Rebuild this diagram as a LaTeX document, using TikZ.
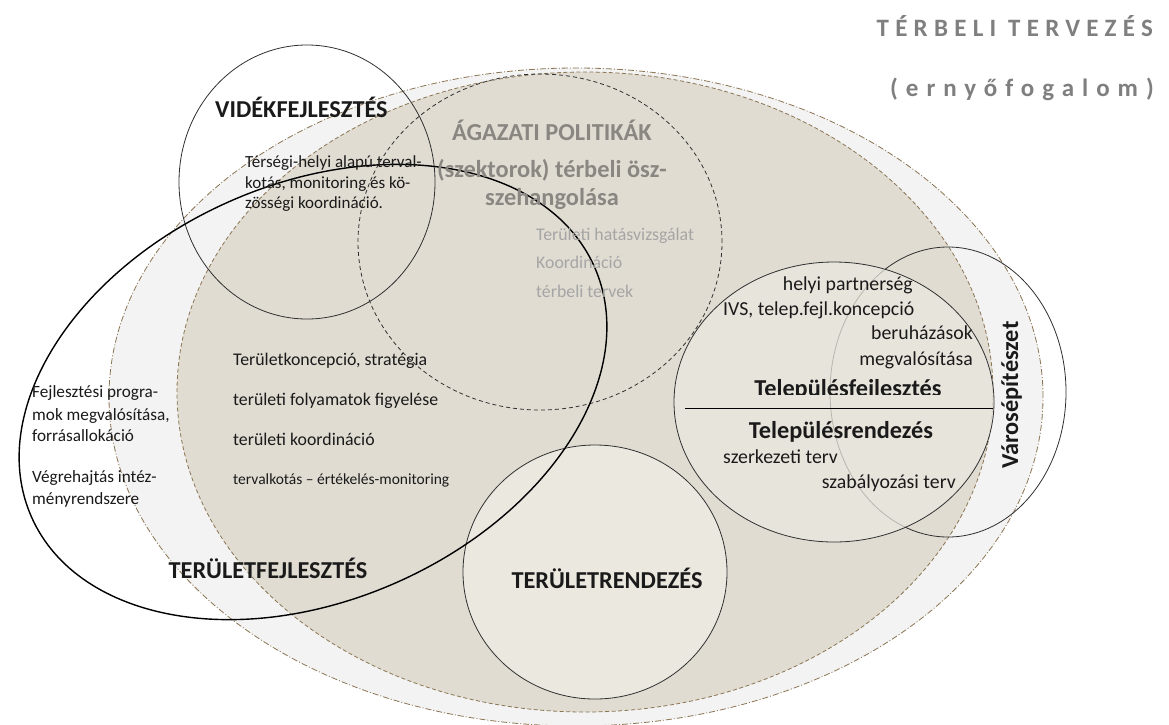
\documentclass[tikz,border=0pt]{standalone}
\usepackage{fontspec}
\setmainfont{Carlito}
\definecolor{outerfill}{HTML}{F3F3F3}
\definecolor{innerfill}{HTML}{E0DCD2}
\definecolor{lightfill}{HTML}{EBE8E0}
\definecolor{brownline}{HTML}{8B7553}
\definecolor{titlegray}{HTML}{7F7F7F}
\definecolor{sectgray}{HTML}{8A8782}
\definecolor{subgray}{HTML}{A5A5A5}
\definecolor{txt}{HTML}{1A1A1A}
\definecolor{ringcol}{HTML}{303030}
\begin{document}
\begin{tikzpicture}[x=1pt,y=1pt,
  outerset/.style={fill=outerfill, draw=brownline, line width=0.8pt, dash pattern=on 6pt off 2pt on 1pt off 2pt},
  innerset/.style={fill=innerfill, draw=brownline, line width=0.8pt, dash pattern=on 4pt off 2.5pt},
  ring/.style={draw=ringcol, line width=0.8pt},
  dashring/.style={draw=ringcol, line width=0.8pt, dash pattern=on 4pt off 3pt},
  bigring/.style={draw=black, line width=1.4pt},
  lab/.style={inner sep=0pt, text=txt},
  bigbold/.style={lab, font=\fontsize{24.3}{28}\selectfont\bfseries},
  midbold/.style={lab, font=\fontsize{24.3}{28}\selectfont\bfseries},
  small/.style={lab, font=\fontsize{17}{20}\selectfont},
  fpstyle/.style={lab, font=\fontsize{17.2}{20}\selectfont},
  tf/.style={lab, font=\fontsize{17.8}{21}\selectfont},
  tel/.style={lab, font=\fontsize{19.8}{23}\selectfont},
  ag/.style={inner sep=0pt, text=sectgray, font=\fontsize{24.4}{28}\selectfont\bfseries},
  agsub/.style={inner sep=0pt, text=subgray, font=\fontsize{17.8}{21}\selectfont},
  ttlA/.style={inner sep=0pt, text=titlegray, font=\fontsize{25}{29}\selectfont\bfseries\addfontfeatures{LetterSpace=25}},
  ttlB/.style={inner sep=0pt, text=titlegray, font=\fontsize{25}{29}\selectfont\bfseries\addfontfeatures{LetterSpace=32}}
]
\useasboundingbox (0,0) rectangle (1169,-724);
\fill[white] (0,0) rectangle (1169,-724);

% umbrella sets
\draw[outerset] (576,-397) ellipse [x radius=467pt, y radius=329pt];
\draw[innerset] (585,-392) ellipse [x radius=408pt, y radius=320pt];

% rings
\draw[ring] (307,-182) ellipse [x radius=128pt, y radius=137pt];
\draw[dashring] (540,-242) ellipse [x radius=182pt, y radius=168pt];
\draw[ring] (948,-392) ellipse [x radius=118pt, y radius=145pt];
\draw[ring, fill=lightfill, fill opacity=0.72] (834,-402) ellipse [x radius=160pt, y radius=140pt];
\draw[ring, fill=lightfill] (595,-572) ellipse [x radius=132pt, y radius=127pt];
\draw[bigring, rotate around={24:(313,-392)}] (313,-392) ellipse [x radius=308pt, y radius=208pt];

% divider in the settlement circle
\coordinate (divL) at (685,-408);
\coordinate (divR) at (993,-408);
\draw[draw=black, line width=0.9pt] (divL) -- (divR);

% title
\node[ttlA, anchor=base east] (t1) at (1153,-36) {TÉRBELI TERVEZÉS};
\node[ttlB, anchor=base east] (t2) at (1154,-96) {(ernyőfogalom)};

% Vidékfejlesztés
\node[bigbold, anchor=base west] (vid) at (215,-117) {VIDÉKFEJLESZTÉS};
\node[small, anchor=base west] (vid1) at (245,-167) {Térségi-helyi alapú terval-};
\node[small, anchor=base west] (vid2) at (245,-188) {kotás, monitoring és kö-};
\node[small, anchor=base west] (vid3) at (245,-208) {zösségi koordináció.};

% Ágazati politikák
\node[ag, anchor=base] (ag1) at (552,-140) {ÁGAZATI POLITIKÁK};
\node[ag, anchor=base] (ag2) at (552,-177) {(szektorok) térbeli ösz-};
\node[ag, anchor=base] (ag3) at (552,-205) {szehangolása};
\node[agsub, anchor=base west] (ags1) at (536,-240) {Területi hatásvizsgálat};
\node[agsub, anchor=base west] (ags2) at (536,-268) {Koordináció};
\node[agsub, anchor=base west] (ags3) at (536,-297) {térbeli tervek};

% Területi tervezés (inner)
\node[tf, anchor=base west] (tt1) at (233,-365) {Területkoncepció, stratégia};
\node[tf, anchor=base west] (tt2) at (233,-405) {területi folyamatok figyelése};
\node[tf, anchor=base west] (tt3) at (233,-445) {területi koordináció};
\node[lab, font=\fontsize{15.5}{18}\selectfont, anchor=base west] (tt4) at (233,-484) {tervalkotás – értékelés-monitoring};

% Területfejlesztés
\node[fpstyle, anchor=base west] (fp1) at (32,-397) {Fejlesztési progra-};
\node[fpstyle, anchor=base west] (fp2) at (32,-420) {mok megvalósítása,};
\node[fpstyle, anchor=base west] (fp3) at (32,-441) {forrásallokáció};
\node[fpstyle, anchor=base west] (fp4) at (32,-482) {Végrehajtás intéz-};
\node[fpstyle, anchor=base west] (fp5) at (32,-504) {ményrendszere};
\node[bigbold, anchor=base] (tfl) at (268,-578) {TERÜLETFEJLESZTÉS};

% Területrendezés
\node[bigbold, anchor=base] (trd) at (607,-588) {TERÜLETRENDEZÉS};

% Településfejlesztés / -rendezés
\node[tel, anchor=base east] (tp1) at (913,-290) {helyi partnerség};
\node[tel, anchor=base west] (tp2) at (723,-315) {IVS, telep.fejl.koncepció};
\node[tel, anchor=base east] (tp3) at (973,-339) {beruházások};
\node[tel, anchor=base east] (tp4) at (973,-365) {megvalósítása};
\begin{scope}
  \clip (700,-360) rectangle (1000,-394);
  \node[midbold, anchor=base] (tpf) at (848,-396) {Településfejlesztés};
\end{scope}
\node[midbold, anchor=base] (tpr) at (841,-438) {Településrendezés};
\node[tel, anchor=base west] (tr1) at (723,-463) {szerkezeti terv};
\node[tel, anchor=base east] (tr2) at (956,-488) {szabályozási terv};

% Városépítészet
\node[midbold, anchor=base, rotate=90] (var) at (1018,-395) {Városépítészet};
\end{tikzpicture}
\end{document}
